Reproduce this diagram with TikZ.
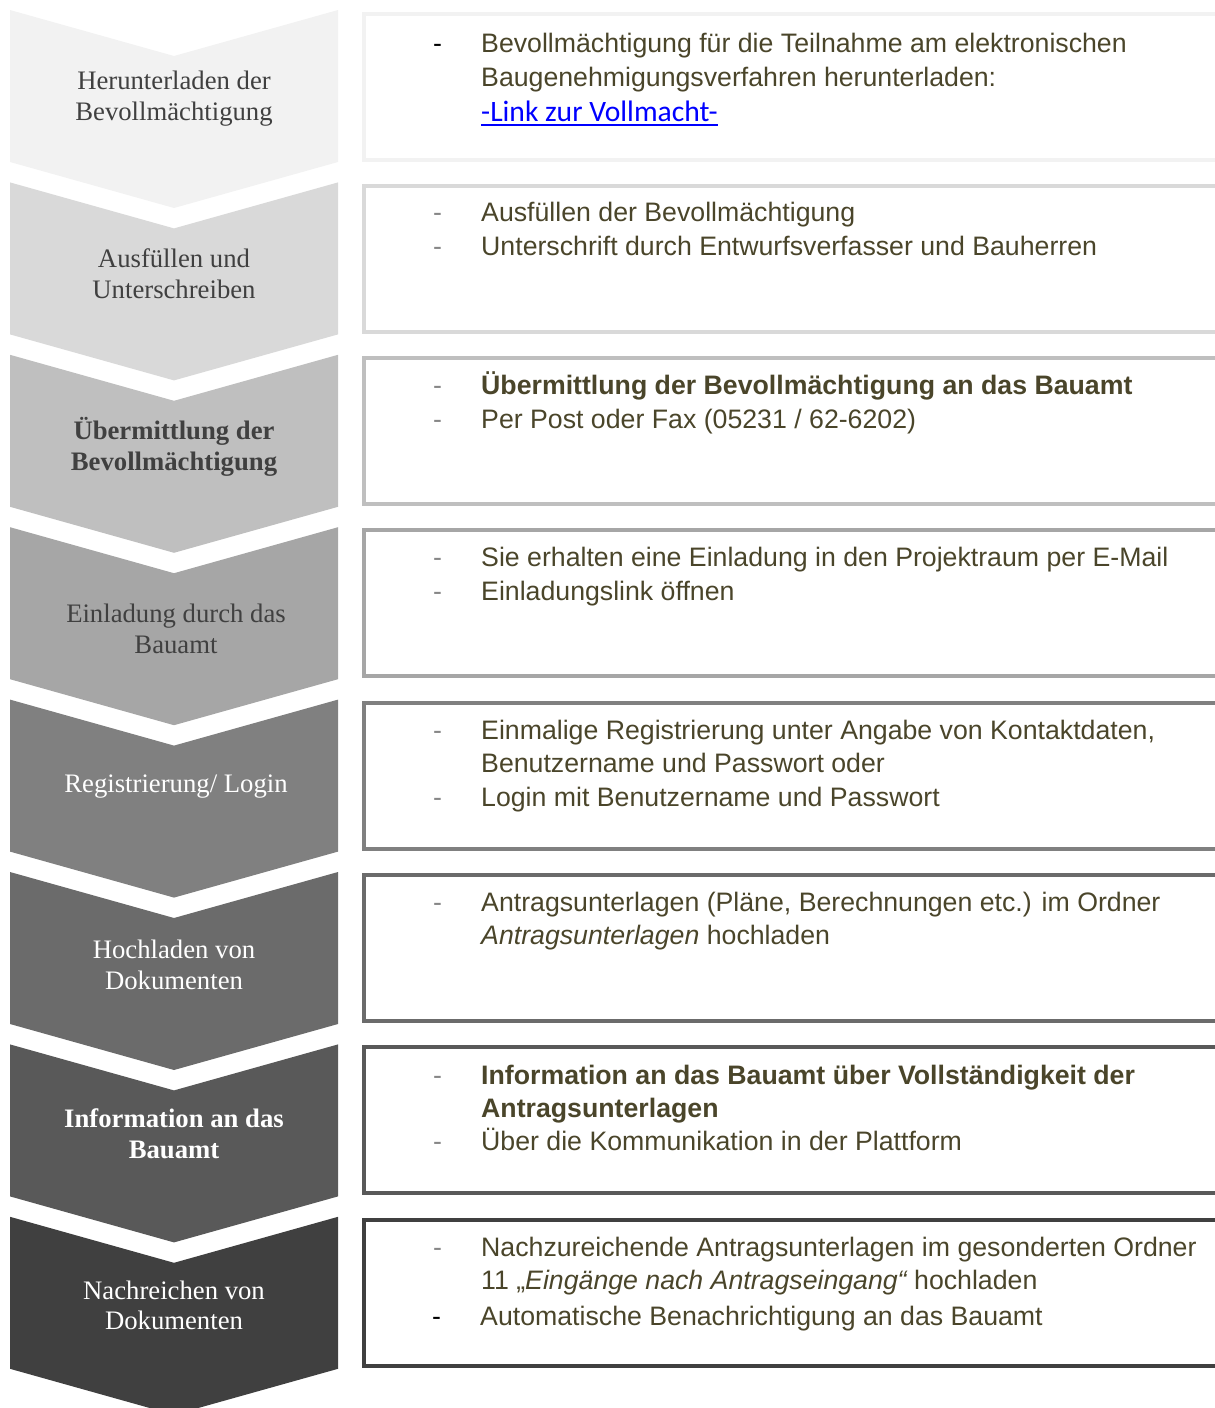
\documentclass[tikz,border=0pt]{standalone}
\usepackage{fontspec}
\setmainfont{Liberation Serif}
\newfontfamily\arialf{Liberation Sans}
\newfontfamily\calif{Carlito}
\definecolor{g1}{HTML}{F2F2F2}
\definecolor{g2}{HTML}{D9D9D9}
\definecolor{g3}{HTML}{BFBFBF}
\definecolor{g4}{HTML}{A6A6A6}
\definecolor{g5}{HTML}{808080}
\definecolor{g6}{HTML}{6B6B6B}
\definecolor{g7}{HTML}{595959}
\definecolor{g8}{HTML}{404040}
\definecolor{darktxt}{HTML}{404040}
\definecolor{olive}{HTML}{4A452A}
\definecolor{dashgray}{HTML}{868686}
\definecolor{linkblue}{HTML}{0000FF}
\newcommand{\chevshape}[2]{%
  \fill[#2] (10,#1) -- (174,#1+46) -- (338,#1) -- (338,#1+152) -- (174,#1+198) -- (10,#1+152) -- cycle;}
\newcommand{\stepbox}[2]{%
  \draw[boxline,draw=#2] (364,#1) rectangle (1240,#1+146);}
\begin{document}
\begin{tikzpicture}[x=1pt,y=-1pt,
  boxline/.style={line width=4pt},
  chevtxt/.style={inner sep=0pt,anchor=base,font=\fontsize{26.7}{31}\selectfont},
  darkc/.style={chevtxt,text=darktxt},
  lightc/.style={chevtxt,text=white},
  itemtxt/.style={inner sep=0pt,anchor=base west,text=olive,font=\arialf\fontsize{26.7}{34}\selectfont},
  dashtxt/.style={inner sep=0pt,anchor=base west,text=dashgray,font=\arialf\fontsize{26.7}{34}\selectfont},
  blackdash/.style={dashtxt,text=black},
  linktxt/.style={inner sep=0pt,anchor=base west,text=linkblue,font=\calif\fontsize{29.6}{34}\selectfont}]
\useasboundingbox (0,0) rectangle (1215,1408);
\clip (0,0) rectangle (1215,1408);
% chevrons
\chevshape{10}{g1}
\chevshape{182.4}{g2}
\chevshape{354.8}{g3}
\chevshape{527.2}{g4}
\chevshape{699.6}{g5}
\chevshape{872}{g6}
\chevshape{1044.4}{g7}
\chevshape{1216.8}{g8}
% boxes
\stepbox{13.5}{g1}
\stepbox{185.8}{g2}
\stepbox{358.1}{g3}
\stepbox{530.4}{g4}
\stepbox{702.7}{g5}
\stepbox{875}{g6}
\stepbox{1047.3}{g7}
\stepbox{1219.6}{g8}
% chevron labels
\node[darkc] (c1a) at (174,89) {Herunterladen der};
\node[darkc] (c1b) at (174,120) {Bevollmächtigung};
\node[darkc] (c2a) at (174,267) {Ausfüllen und};
\node[darkc] (c2b) at (174,298) {Unterschreiben};
\node[darkc,font=\bfseries\fontsize{26.7}{31}\selectfont] (c3a) at (174,439) {Übermittlung der};
\node[darkc,font=\bfseries\fontsize{26.7}{31}\selectfont] (c3b) at (174,470) {Bevollmächtigung};
\node[darkc] (c4a) at (176,622) {Einladung durch das};
\node[darkc] (c4b) at (176,653) {Bauamt};
\node[lightc] (c5a) at (176,792) {Registrierung/ Login};
\node[lightc] (c6a) at (174,958) {Hochladen von};
\node[lightc] (c6b) at (174,989) {Dokumenten};
\node[lightc,font=\bfseries\fontsize{26.7}{31}\selectfont] (c7a) at (174,1127) {Information an das};
\node[lightc,font=\bfseries\fontsize{26.7}{31}\selectfont] (c7b) at (174,1158) {Bauamt};
\node[lightc] (c8a) at (174,1299) {Nachreichen von};
\node[lightc] (c8b) at (174,1329) {Dokumenten};
% box 1
\node[blackdash] (d1a) at (433,52) {-};
\node[itemtxt] (t1a) at (481,52) {Bevollmächtigung für die Teilnahme am elektronischen};
\node[itemtxt] (t1b) at (481,86) {Baugenehmigungsverfahren herunterladen:};
\node[linktxt] (t1c) at (481,121) {-Link zur Vollmacht-};
\draw[linkblue,line width=1.8pt] ([yshift=-4pt]t1c.base west) -- ([yshift=-4pt]t1c.base east);
% box 2
\node[dashtxt] (d2a) at (433,221) {-};
\node[itemtxt] (t2a) at (481,221) {Ausfüllen der Bevollmächtigung};
\node[dashtxt] (d2b) at (433,255) {-};
\node[itemtxt] (t2b) at (481,255) {Unterschrift durch Entwurfsverfasser und Bauherren};
% box 3
\node[dashtxt] (d3a) at (433,394) {-};
\node[itemtxt,font=\arialf\bfseries\fontsize{26.7}{34}\selectfont] (t3a) at (481,394) {Übermittlung der Bevollmächtigung an das Bauamt};
\node[dashtxt] (d3b) at (433,428) {-};
\node[itemtxt] (t3b) at (481,428) {Per Post oder Fax (05231 / 62-6202)};
% box 4
\node[dashtxt] (d4a) at (433,566) {-};
\node[itemtxt] (t4a) at (481,566) {Sie erhalten eine Einladung in den Projektraum per E-Mail};
\node[dashtxt] (d4b) at (433,600) {-};
\node[itemtxt] (t4b) at (481,600) {Einladungslink öffnen};
% box 5
\node[dashtxt] (d5a) at (433,739) {-};
\node[itemtxt] (t5a) at (481,739) {Einmalige Registrierung unter Angabe von Kontaktdaten,};
\node[itemtxt] (t5b) at (481,772) {Benutzername und Passwort oder};
\node[dashtxt] (d5b) at (433,806) {-};
\node[itemtxt] (t5c) at (481,806) {Login mit Benutzername und Passwort};
% box 6
\node[dashtxt] (d6a) at (433,911) {-};
\node[itemtxt] (t6a) at (481,911) {Antragsunterlagen (Pläne, Berechnungen etc.) im Ordner};
\node[itemtxt] (t6b) at (481,944) {\itshape Antragsunterlagen\upshape{} hochladen};
% box 7
\node[dashtxt] (d7a) at (433,1084) {-};
\node[itemtxt,font=\arialf\bfseries\fontsize{26.7}{34}\selectfont] (t7a) at (481,1084) {Information an das Bauamt über Vollständigkeit der};
\node[itemtxt,font=\arialf\bfseries\fontsize{26.7}{34}\selectfont] (t7b) at (481,1117) {Antragsunterlagen};
\node[dashtxt] (d7b) at (433,1150) {-};
\node[itemtxt] (t7c) at (481,1150) {Über die Kommunikation in der Plattform};
% box 8
\node[dashtxt] (d8a) at (433,1256) {-};
\node[itemtxt] (t8a) at (481,1256) {Nachzureichende Antragsunterlagen im gesonderten Ordner};
\node[itemtxt] (t8b) at (481,1289) {11 „\itshape Eingänge nach Antragseingang“\upshape{} hochladen};
\node[blackdash] (d8b) at (432,1325) {-};
\node[itemtxt] (t8c) at (480,1325) {Automatische Benachrichtigung an das Bauamt};
\end{tikzpicture}
\end{document}
